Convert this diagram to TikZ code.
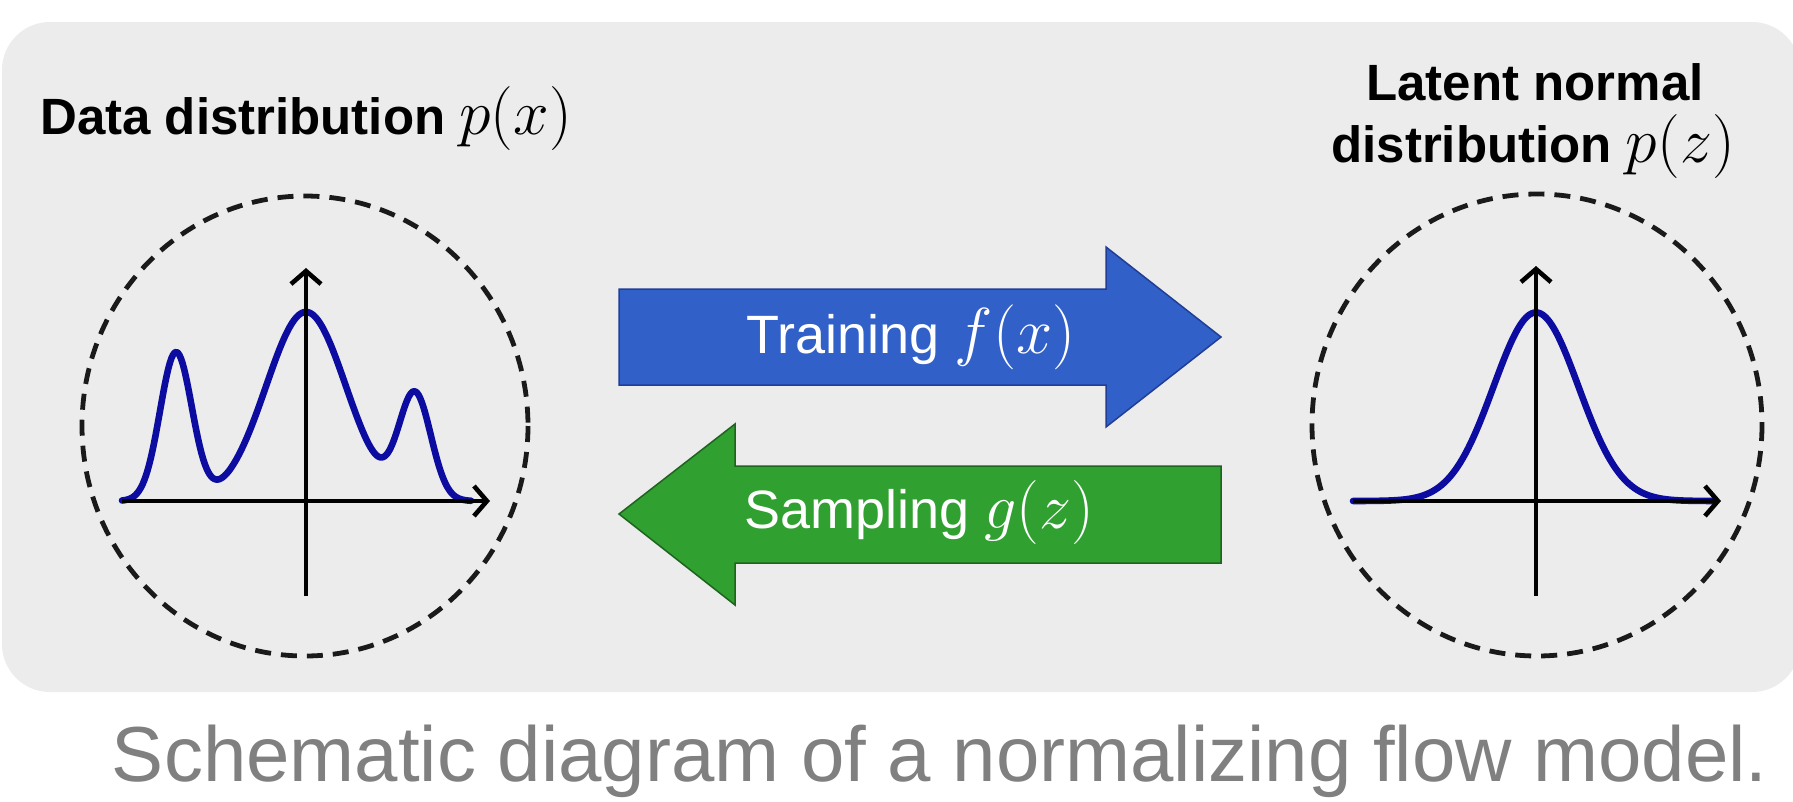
\RequirePackage{fix-cm}
\documentclass[tikz,border=0pt]{standalone}
\usepackage{fontspec}
\setmainfont{Liberation Sans}
\usetikzlibrary{arrows.meta}
\definecolor{bgbox}{RGB}{236,236,236}
\definecolor{curveblue}{RGB}{12,12,160}
\definecolor{trainfill}{RGB}{49,96,201}
\definecolor{trainedge}{RGB}{32,62,150}
\definecolor{sampfill}{RGB}{48,160,48}
\definecolor{sampedge}{RGB}{30,100,30}
\definecolor{captiongray}{RGB}{128,128,128}
\definecolor{dashcol}{RGB}{26,26,26}
\begin{document}
\begin{tikzpicture}[x=1pt,y=-1pt,
  declare function={gs(\p,\q,\r)=exp(-min(((\p-\q)^2)/(2*\r*\r),20));},
  dashring/.style={draw=dashcol, line width=4.8pt, dash pattern=on 16pt off 10pt},
  axisline/.style={draw=black, line width=4.6pt, -{Straight Barb[length=13pt,width=30pt]}},
  density/.style={draw=curveblue, line width=6.6pt, line join=round, line cap=round},
  titletext/.style={inner sep=0pt, font=\fontsize{51}{60}\selectfont\bfseries},
  mathbig/.style={},
  arrowtext/.style={inner sep=0pt, text=white, font=\fontsize{54}{60}\selectfont},
  trainarrow/.style={fill=trainfill, draw=trainedge, line width=1.5pt},
  samparrow/.style={fill=sampfill, draw=sampedge, line width=1.5pt},
  captiontext/.style={inner sep=0pt, text=captiongray, font=\fontsize{78}{90}\selectfont}
]
\useasboundingbox (0,0) rectangle (1793,801);
\fill[white] (0,0) rectangle (1793,801);
% background panel
\fill[bgbox, rounded corners=48pt] (2,22) rectangle (1800,692);

% ---- left: data distribution ----
\node[titletext, anchor=base west] (titleL) at (40,134)
  {Data distribution {\fontsize{64}{60}\selectfont$p(x)$}};
\draw[dashring] (305,426) ellipse [x radius=223, y radius=230];
\draw[density] plot[domain=122:471, samples=220]
  (\x, {501 - 148*gs((\x-306)/100,-1.30,0.16) - 189*gs((\x-306)/100,0,0.40) - 105*gs((\x-306)/100,1.09,0.16)});
\coordinate (Lx0) at (122,501); \coordinate (Lx1) at (490,501);
\coordinate (Ly0) at (306,596); \coordinate (Ly1) at (306,268);
\draw[axisline] (Lx0) -- (Lx1);
\draw[axisline] (Ly0) -- (Ly1);

% ---- right: latent normal distribution ----
\node[titletext, anchor=base] (titleRa) at (1535,100) {Latent normal};
\node[titletext, anchor=base] (titleRb) at (1533,162)
  {distribution {\fontsize{64}{60}\selectfont$p(z)$}};
\draw[dashring] (1537,425) ellipse [x radius=225, y radius=231];
\draw[density] plot[domain=1353:1712, samples=200]
  (\x, {501 - 188.5*gs((\x-1536)/100,0,0.425)});
\coordinate (Rx0) at (1353,501); \coordinate (Rx1) at (1721,501);
\coordinate (Ry0) at (1536,596); \coordinate (Ry1) at (1536,266);
\draw[axisline] (Rx0) -- (Rx1);
\draw[axisline] (Ry0) -- (Ry1);

% ---- middle arrows ----
\draw[trainarrow] (619,289) -- (1106,289) -- (1106,247) -- (1221,337)
  -- (1106,427) -- (1106,385) -- (619,385) -- cycle;
\node[arrowtext, anchor=base] (train) at (911,353)
  {Training {\fontsize{65}{60}\selectfont$f(x)$}};
\draw[samparrow] (1221,466) -- (735,466) -- (735,424) -- (619,514)
  -- (735,605) -- (735,563) -- (1221,563) -- cycle;
\node[arrowtext, anchor=base] (samp) at (919,528)
  {Sampling {\fontsize{64}{60}\selectfont$g(z)$}};

% ---- caption ----
\node[captiontext, anchor=base] (caption) at (940,781)
  {Schematic diagram of a normalizing flow model.};
\end{tikzpicture}
\end{document}
